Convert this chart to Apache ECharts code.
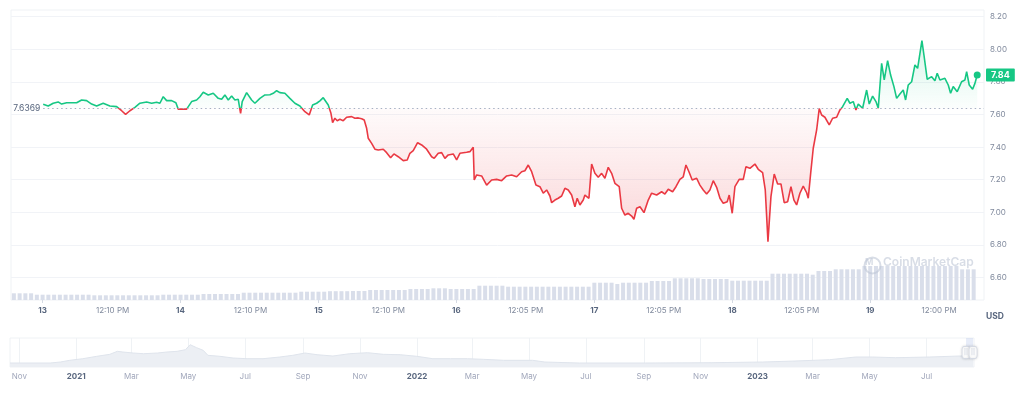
<!DOCTYPE html>
<html><head><meta charset="utf-8">
<script src="https://cdn.jsdelivr.net/npm/echarts@6/dist/echarts.min.js"></script>
<style>html,body{margin:0;padding:0;background:#fff;}#c{width:1024px;height:395px;}</style>
</head><body><div id="c"></div>
<script>
// ---- price (hours since Aug 13 00:00) ----
const priceHours = [
0.1,0.97,1.84,2.71,3.31,4.18,5.92,6.79,7.66,8.53,
9.40,10.54,11.71,12.88,13.75,14.44,15.19,16.06,16.93,18.10,
18.97,19.84,20.41,20.99,21.58,22.45,23.19,23.60,25.06,25.93,
26.80,27.37,27.95,28.82,29.69,30.56,31.15,31.72,32.30,32.89,
33.46,34.04,34.45,34.73,35.50,36.37,36.94,37.81,38.68,39.55,
40.13,40.72,41.29,42.16,43.03,43.90,44.77,45.64,46.39,46.98,
47.68,48.25,48.83,49.70,50.17,50.46,50.86,51.26,51.73,52.31,
52.90,53.77,54.34,54.92,55.51,55.96,56.38,56.66,57.25,57.82,
58.40,59.27,59.86,60.55,61.13,61.88,62.75,63.44,63.91,64.49,
65.25,65.95,66.82,67.69,68.14,68.84,69.43,70.00,70.58,71.45,
72.04,72.61,73.78,74.35,74.93,75.10,75.52,76.39,77.26,78.13,
79.00,79.87,80.74,81.61,82.48,83.35,83.92,84.50,85.09,85.84,
86.53,87.11,87.70,88.27,88.57,89.14,89.72,90.31,90.88,91.46,
92.05,92.62,93.02,93.49,94.07,94.36,95.06,95.53,96.10,96.68,
97.27,97.84,98.42,99.01,99.58,100.33,100.75,101.32,101.90,102.49,
102.89,103.36,103.94,104.64,105.38,105.97,106.84,107.71,108.28,108.86,
109.62,110.20,110.89,111.47,111.94,112.46,113.03,113.80,114.37,114.95,
115.54,116.11,116.69,117.28,117.86,118.43,119.12,119.47,119.99,120.46,
121.21,121.91,122.38,123.07,123.94,124.52,125.28,125.74,126.21,126.73,
127.30,127.89,128.47,129.04,129.64,130.21,130.73,131.20,131.77,132.35,
132.94,133.22,133.64,134.09,134.68,135.13,135.55,136.12,136.87,137.46,
138.16,138.73,139.20,140.00,140.47,141.05,141.52,141.92,142.68,143.38,
143.83,144.42,145.00,145.40,145.99,146.44,147.03,147.55,148.13,148.60,
149.17,149.75,150.16,150.62,151.21,151.78,152.25,153.00,153.35,153.92,
154.69,155.26,155.66,156.13,157.00,157.58,157.99,158.44,159.14,159.90,
160.48,160.78,161.23,161.82,162.22,162.62
];
const priceValues = [
7.663,7.652,7.669,7.677,7.664,7.672,7.672,7.689,7.685,7.664,
7.652,7.669,7.652,7.648,7.623,7.601,7.623,7.644,7.669,7.677,
7.669,7.675,7.669,7.709,7.685,7.685,7.672,7.633,7.633,7.679,
7.689,7.709,7.736,7.720,7.730,7.699,7.693,7.720,7.689,7.713,
7.689,7.693,7.607,7.679,7.734,7.689,7.669,7.699,7.720,7.721,
7.730,7.746,7.734,7.730,7.699,7.669,7.652,7.617,7.597,7.658,
7.669,7.684,7.703,7.658,7.607,7.550,7.577,7.562,7.571,7.562,
7.583,7.587,7.577,7.579,7.574,7.566,7.515,7.454,7.423,7.387,
7.382,7.387,7.366,7.335,7.358,7.341,7.317,7.321,7.362,7.378,
7.427,7.413,7.387,7.341,7.331,7.362,7.366,7.331,7.352,7.358,
7.321,7.362,7.368,7.372,7.399,7.198,7.229,7.223,7.167,7.198,
7.202,7.194,7.223,7.229,7.218,7.249,7.255,7.290,7.249,7.167,
7.157,7.117,7.137,7.100,7.059,7.075,7.086,7.100,7.147,7.137,
7.106,7.034,7.086,7.045,7.075,7.106,7.086,7.296,7.239,7.215,
7.239,7.209,7.276,7.239,7.178,7.157,7.025,6.983,6.994,6.977,
6.957,7.025,7.034,6.998,7.075,7.117,7.106,7.126,7.112,7.141,
7.126,7.157,7.202,7.218,7.290,7.249,7.198,7.209,7.167,7.137,
7.112,7.137,7.194,7.153,7.086,7.055,7.065,7.106,6.994,7.157,
7.202,7.202,7.280,7.270,7.296,7.264,7.243,7.137,6.820,7.096,
7.235,7.174,7.174,7.059,7.065,7.157,7.075,7.045,7.117,7.161,
7.120,7.086,7.239,7.393,7.505,7.636,7.597,7.583,7.536,7.577,
7.583,7.628,7.648,7.699,7.669,7.679,7.628,7.664,7.638,7.750,
7.664,7.713,7.679,7.638,7.914,7.812,7.930,7.842,7.771,7.699,
7.726,7.750,7.689,7.781,7.801,7.904,7.883,8.053,7.965,7.816,
7.832,7.807,7.853,7.812,7.822,7.781,7.730,7.771,7.740,7.801,
7.812,7.863,7.781,7.755,7.791,7.842
];
const baselinePrice = 7.6369;
const lastPriceLabel = '7.84';

// ---- 24h volume ($M), hourly bars starting at hour -5 ----
const volumeStartHour = -5;
const volumeValues = [
67,67,67,67,
53,53,53,53,53,53,53,53,53,53,
47,47,47,47,47,47,47,47,47,47,47,47,
53,53,53,53,53,53,53,
60,60,60,60,60,60,60,
73,73,73,73,73,73,73,73,73,73,
83,83,83,83,83,
88,88,88,88,
90,90,90,
100,100,100,100,100,100,100,
110,110,110,110,
117,117,117,
110,110,110,110,110,
143,143,143,143,143,
133,133,133,133,133,133,133,133,133,133,133,133,133,133,133,
173,173,173,173,
160,
173,173,173,173,173,
190,190,190,190,
217,217,217,217,217,
210,210,210,210,210,
193,193,193,193,193,193,193,
263,263,263,263,263,263,263,
253,
290,290,290,
307,307,307,307,307,
340,340,340,340,340,340,340,340,340,340,340,340,340,340,340,340,340,
307,307,307
];

// ---- axis ticks ----
const xTickHours = [0,12.17,24,36.17,48,60.17,72,84.08,96,108.08,120,132.08,144,156];
const xTickLabels = ['13','12:10 PM','14','12:10 PM','15','12:10 PM','16','12:05 PM','17','12:05 PM','18','12:05 PM','19','12:00 PM'];
const dayTickHours = [0,24,48,72,96,120,144];
const yTickValues = [6.6,6.8,7.0,7.2,7.4,7.6,7.8,8.0,8.2];

// ---- overview navigator (days since 2020-11-01) ----
const navDays = [-10,33,44,54,68,83,97,105,111,122,133,148,158,169,178,183,190,197,202,215,229,244,261,279,293,306,319,336,354,373,390,408,426,443,462,480,497,519,550,563,600,671,742,796,831,868,896,914,939,975,1007,1022];
const navValues = [4,4,5,6.7,8.3,10.7,12.7,15.7,15,14,13.3,14,15,15.7,17.3,22.3,19.3,16.7,11.7,10.7,9,8.3,8.3,10,11.7,14,12.3,11,13.3,14.3,12.7,12.3,10.7,8.3,8.3,8.3,7.7,6.7,6.7,5,4,4,4.3,5,6,7.3,10,10,9.3,10,11,11];
const navTickDays = [0,61,120,181,242,304,365,426,485,546,607,669,730,791,850,911,972];
const navTickLabels = ['Nov','2021','Mar','May','Jul','Sep','Nov','2022','Mar','May','Jul','Sep','Nov','2023','Mar','May','Jul'];
const navSelection = [1014.3, 1021.8];

// view ranges
const xMinHour = -5.5, xMaxHour = 163.8;
const priceAxisMin = 6.462, priceAxisMax = 8.241;
const volumeAxisMax = 2900;
const navMinDay = -10, navMaxDay = 1022.8, navAxisMax = 29;

const GREEN = '#16c784', RED = '#ea3943';
const pMax = Math.max(...priceValues), pMin = Math.min(...priceValues);
const f = (pMax - baselinePrice) / (pMax - pMin);
const lastH = priceHours[priceHours.length - 1], lastV = priceValues[priceValues.length - 1];

function lookup(ticks, labels, v) {
  for (let i = 0; i < ticks.length; i++) if (Math.abs(ticks[i] - v) < 0.01) return labels[i];
  return '';
}

const chart = echarts.init(document.getElementById('c'), null, {renderer: 'canvas'});
chart.setOption({
  animation: false,
  textStyle: {fontFamily: 'Inter, "Noto Sans", sans-serif'},
  grid: [
    {left: 11, right: 40, top: 10, height: 290, show: true, borderColor: '#eff2f5', borderWidth: 1},
    {left: 10, right: 50, top: 338, height: 29, show: true, borderColor: '#eff2f5', borderWidth: 1}
  ],
  xAxis: [
    {type: 'value', gridIndex: 0, min: xMinHour, max: xMaxHour,
     axisLine: {show: false},
     axisTick: {show: true, customValues: dayTickHours, length: 3, lineStyle: {color: '#d5dae3'}},
     axisLabel: {customValues: xTickHours, margin: 7, fontSize: 8, color: '#808a9d',
       formatter: v => { const t = lookup(xTickHours, xTickLabels, v); return /^\d+$/.test(t) ? '{d|' + t + '}' : t; },
       rich: {d: {fontWeight: 'bold', color: '#58667e', fontSize: 8}}},
     splitLine: {show: false}},
    {type: 'value', gridIndex: 1, min: navMinDay, max: navMaxDay,
     axisLine: {show: false},
     axisTick: {show: false, customValues: navTickDays},
     axisLabel: {customValues: navTickDays, margin: 6, fontSize: 8, color: '#a1a7bb',
       formatter: v => { const t = lookup(navTickDays, navTickLabels, v); return /^\d+$/.test(t) ? '{y|' + t + '}' : t; },
       rich: {y: {fontWeight: 'bold', color: '#58667e', fontSize: 8}}},
     splitLine: {show: true, lineStyle: {color: '#eff2f5'}}}
  ],
  yAxis: [
    {type: 'value', gridIndex: 0, position: 'right', min: priceAxisMin, max: priceAxisMax,
     axisLine: {show: false},
     axisTick: {show: false, customValues: yTickValues},
     axisLabel: {customValues: yTickValues, formatter: v => v.toFixed(2), color: '#808a9d', fontSize: 8, margin: 6},
     splitLine: {show: true, lineStyle: {color: '#f1f3f7'}}},
    {type: 'value', gridIndex: 0, position: 'right', min: 0, max: volumeAxisMax, show: false, splitLine: {show: false}},
    {type: 'value', gridIndex: 1, min: 0, max: navAxisMax, show: false, splitLine: {show: false}}
  ],
  series: [
    {type: 'bar', name: 'Volume', xAxisIndex: 0, yAxisIndex: 1, barWidth: 4, z: 1,
     itemStyle: {color: '#d9deea'}, silent: true,
     data: volumeValues.map((v, i) => [volumeStartHour + i, v])},
    {type: 'line', name: 'Price', xAxisIndex: 0, yAxisIndex: 0, z: 3,
     symbol: 'none', showSymbol: false,
     lineStyle: {width: 1.6, color: {type: 'linear', x: 0, y: 0, x2: 0, y2: 1, colorStops: [
       {offset: 0, color: GREEN}, {offset: f, color: GREEN}, {offset: f, color: RED}, {offset: 1, color: RED}]}},
     areaStyle: {origin: baselinePrice, color: {type: 'linear', x: 0, y: 0, x2: 0, y2: 1, colorStops: [
       {offset: 0, color: 'rgba(22,199,132,0.24)'},
       {offset: f, color: 'rgba(22,199,132,0.02)'},
       {offset: f, color: 'rgba(234,57,67,0.03)'},
       {offset: 1, color: 'rgba(234,57,67,0.30)'}]}},
     data: priceHours.map((h, i) => [h, priceValues[i]]),
     markLine: {silent: true, symbol: 'none', animation: false, data: [
       [{coord: [priceHours[0], baselinePrice],
         lineStyle: {type: [1.5, 3], color: '#a6b0c3', width: 1},
         label: {show: true, position: 'start', distance: 3, formatter: String(baselinePrice), color: '#58667e', fontSize: 8.5}},
        {coord: [xMaxHour, baselinePrice]}],
       [{coord: [lastH, lastV],
         lineStyle: {color: 'rgba(0,0,0,0)', width: 1},
         label: {show: true, position: 'end', distance: 2, formatter: lastPriceLabel, color: '#fff', fontWeight: 'bold',
           fontSize: 9, backgroundColor: GREEN, padding: [2, 5, 2, 5], borderRadius: 1}},
        {coord: [xMaxHour, lastV]}]
     ]},
     markPoint: {silent: true, animation: false, symbol: 'circle', symbolSize: 7,
       itemStyle: {color: GREEN}, label: {show: false},
       data: [{coord: [lastH, lastV]}]}},
    {type: 'line', name: 'History', xAxisIndex: 1, yAxisIndex: 2, symbol: 'none', z: 2, silent: true,
     lineStyle: {color: '#dfe4ec', width: 1},
     areaStyle: {color: '#eceff4', opacity: 1},
     data: navDays.map((d, i) => [d, navValues[i]]),
     markArea: {silent: true, itemStyle: {color: 'rgba(106,134,214,0.16)'},
       data: [[{xAxis: navSelection[0]}, {xAxis: navSelection[1]}]]},
     markPoint: {silent: true, symbol: 'roundRect', symbolSize: [8, 12],
       itemStyle: {color: '#fff', borderColor: '#d5dae4', borderWidth: 1, shadowBlur: 3, shadowColor: 'rgba(0,0,0,0.15)'},
       label: {show: true, position: 'inside', formatter: '||', color: '#b8c0d0', fontSize: 6},
       data: [{coord: [navSelection[0], navAxisMax / 2]}, {coord: [navSelection[1], navAxisMax / 2]}]}}
  ],
  graphic: [
    {type: 'text', left: 986, top: 312, style: {text: 'USD', fill: '#58667e', font: 'bold 8.5px Inter'}, silent: true},
    {type: 'circle', left: 862, top: 255, shape: {r: 8}, style: {fill: 'none', stroke: 'rgba(190,198,214,0.6)', lineWidth: 2}, z: 10, silent: true},
    {type: 'text', left: 865, top: 258, style: {text: 'M', fill: 'rgba(190,198,214,0.6)', font: 'bold 9px Inter'}, z: 10, silent: true},
    {type: 'text', left: 883, top: 256, style: {text: 'CoinMarketCap', fill: 'rgba(190,198,214,0.6)', font: '600 12px Inter'}, z: 10, silent: true}
  ]
});
</script>
</body></html>
